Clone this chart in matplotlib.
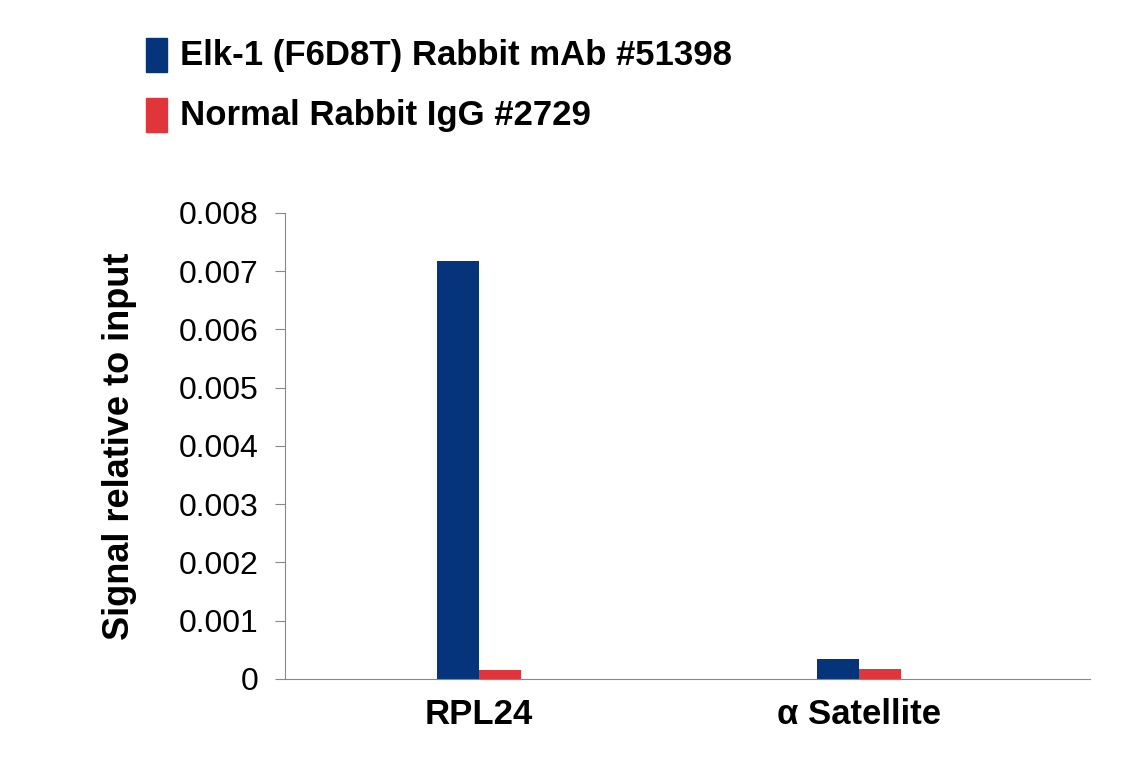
import matplotlib
matplotlib.use("Agg")
import matplotlib.pyplot as plt
from matplotlib.patches import Rectangle

categories = ["RPL24", "α Satellite"]
series_names = ["Elk-1 (F6D8T) Rabbit mAb #51398", "Normal Rabbit IgG #2729"]
elk1 = [0.00718, 0.00034]
igg = [0.00015, 0.00017]
colors = ["#06347a", "#e0353a"]
yticks = [0, 0.001, 0.002, 0.003, 0.004, 0.005, 0.006, 0.007, 0.008]
ytick_labels = ["0", "0.001", "0.002", "0.003", "0.004", "0.005", "0.006", "0.007", "0.008"]

plt.rcParams['font.family'] = ['Liberation Sans', 'DejaVu Sans']
fig = plt.figure(figsize=(11.41, 7.68), dpi=100)
ax = fig.add_axes([0.25, 0.116, 0.705, 0.607])
w = 0.11
x = range(len(categories))
ax.bar([i - w/2 for i in x], elk1, width=w, color=colors[0])
ax.bar([i + w/2 for i in x], igg, width=w, color=colors[1])
ax.set_xlim(-0.51, 1.608)
ax.set_ylim(0, 0.008)
ax.set_yticks(yticks)
ax.set_yticklabels(ytick_labels, fontsize=23)
ax.set_xticks(list(x))
ax.set_xticklabels(categories, fontsize=25, fontweight='bold')
ax.tick_params(axis='x', length=0, pad=14)
ax.tick_params(axis='y', length=7, color='#888888', pad=12)
for s in ['top', 'right']:
    ax.spines[s].set_visible(False)
for s in ['left', 'bottom']:
    ax.spines[s].set_color('#888888')
ax.set_ylabel("Signal relative to input", fontsize=26, fontweight='bold', labelpad=30)

for k, (name, c) in enumerate(zip(series_names, colors)):
    yy = 0.928 - k * 0.078
    fig.patches.append(Rectangle((0.128, yy - 0.022), 0.018, 0.045, transform=fig.transFigure, color=c))
    fig.text(0.158, yy, name, fontsize=25, fontweight='bold', va='center')

fig.savefig("out.png", dpi=100)
